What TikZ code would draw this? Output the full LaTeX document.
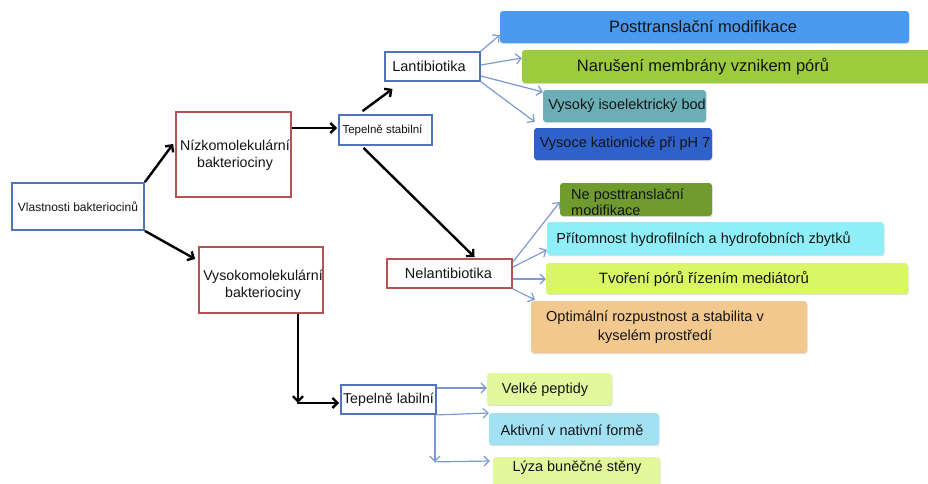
\documentclass[tikz,border=0pt]{standalone}
\usepackage{fontspec}
\setmainfont{Liberation Sans}
\usetikzlibrary{arrows.meta,shadows,calc}
\definecolor{bbd}{HTML}{4F74B8}
\definecolor{rbd}{HTML}{B55252}
\definecolor{arr}{HTML}{7D9AD0}
\definecolor{txt}{HTML}{141414}
\definecolor{cpost}{HTML}{4A9BF0}
\definecolor{cnarus}{HTML}{9CCB3B}
\definecolor{cvysoky}{HTML}{6BAEB5}
\definecolor{cvysoce}{HTML}{2E61C9}
\definecolor{cnepost}{HTML}{6F9B2F}
\definecolor{cpritom}{HTML}{8FEFF9}
\definecolor{ctvor}{HTML}{D9F765}
\definecolor{coptim}{HTML}{F3C88E}
\definecolor{cvelke}{HTML}{E1F89C}
\definecolor{caktiv}{HTML}{A2E1F4}
\begin{document}
\begin{tikzpicture}[x=1pt,y=-1pt,
  wbox/.style={draw, line width=1.8pt, fill=white, inner sep=0pt},
  bb/.style={wbox, draw=bbd},
  rb/.style={wbox, draw=rbd},
  cbox/.style={rounded corners=3pt, inner sep=0pt, draw=none,
    drop shadow={shadow xshift=0.6pt, shadow yshift=-1.2pt, opacity=0.25}},
  lbl/.style={inner sep=0pt, text=txt, align=center},
  blk/.style={line width=2.4pt, draw=black, -{Straight Barb[length=5pt,width=10pt]}},
  blkl/.style={line width=2.4pt, draw=black},
  blu/.style={line width=1.2pt, draw=arr, -{Straight Barb[length=5pt,width=10pt]}},
  blul/.style={line width=1.2pt, draw=arr},
  fA/.style={font=\fontsize{12}{14}\selectfont},
  fB/.style={font=\fontsize{14.2}{16.5}\selectfont},
  fC/.style={font=\fontsize{11.5}{13}\selectfont},
  fD/.style={font=\fontsize{14.5}{16}\selectfont},
  fE/.style={font=\fontsize{16.5}{19}\selectfont},
  fF/.style={font=\fontsize{15}{17}\selectfont},
  fG/.style={font=\fontsize{14.5}{19}\selectfont},
]
\useasboundingbox (0,0) rectangle (928,483);
\fill[white] (0,0) rectangle (928,483);

% white bordered boxes
\node[bb, minimum width=132pt, minimum height=47pt] (vlast) at (78,206.5) {};
\node[rb, minimum width=115pt, minimum height=85pt] (nizko) at (233.5,154.5) {};
\node[rb, minimum width=124pt, minimum height=66pt] (vysoko) at (261,280) {};
\node[bb, minimum width=93pt, minimum height=30pt] (stab) at (385.5,130) {};
\node[bb, minimum width=95pt, minimum height=29pt] (lanti) at (432.5,66.5) {};
\node[rb, minimum width=125pt, minimum height=29pt] (nelanti) at (449.5,273.5) {};
\node[bb, minimum width=95pt, minimum height=29pt] (labil) at (388.5,399.5) {};

% coloured boxes
\node[cbox, fill=cpost, minimum width=409pt, minimum height=32pt] (post) at (704.5,27) {};
\node[cbox, fill=cnarus, minimum width=410pt, minimum height=33pt] (narus) at (727,66.5) {};
\node[cbox, fill=cvysoky, minimum width=163pt, minimum height=32pt] (vysoky) at (624.5,106) {};
\node[cbox, fill=cvysoce, minimum width=178pt, minimum height=32pt] (vysoce) at (623,144) {};
\node[cbox, fill=cnepost, minimum width=152pt, minimum height=33pt] (nepost) at (636,199.5) {};
\node[cbox, fill=cpritom, minimum width=337pt, minimum height=33pt] (pritom) at (715.5,238.5) {};
\node[cbox, fill=ctvor, minimum width=362pt, minimum height=31pt] (tvor) at (727,278.5) {};
\node[cbox, fill=coptim, minimum width=276pt, minimum height=52pt] (optim) at (669,327) {};
\node[cbox, fill=cvelke, minimum width=125pt, minimum height=32pt] (velke) at (549.5,389) {};
\node[cbox, fill=caktiv, minimum width=170pt, minimum height=32pt] (aktiv) at (574,429) {};
\node[cbox, fill=cvelke, minimum width=167pt, minimum height=38pt] (lyza) at (576.5,476) {};

% texts
\node[lbl, fA] (vlastT) at (78,206.5) {Vlastnosti bakteriocinů};
\node[lbl, fB] (nizkoT) at (235,155) {Nízkomolekulární\\bakteriociny};
\node[lbl, fB] (vysokoT) at (263,285) {Vysokomolekulární\\bakteriociny};
\node[lbl, fC] (stabT) at (382.5,130) {Tepelně stabilní};
\node[lbl, fD] (lantiT) at (429,66.5) {Lantibiotika};
\node[lbl, fD] (nelantiT) at (448.5,273.5) {Nelantibiotika};
\node[lbl, fB] (labilT) at (388.5,400) {Tepelně labilní};
\node[lbl, fE] (postT) at (703,27) {Posttranslační modifikace};
\node[lbl, fE] (narusT) at (703,67) {Narušení membrány vznikem pórů};
\node[lbl, fD] (vysokyT) at (627,106) {Vysoký isoelektrický bod};
\node[lbl, fD] (vysoceT) at (625,144) {Vysoce kationické při pH 7};
\node[lbl, fD, anchor=west, align=left] (nepostT) at (571,202.5) {Ne posttranslační\\modifikace};
\node[lbl, fD] (pritomT) at (703.5,239) {Přítomnost hydrofilních a hydrofobních zbytků};
\node[lbl, fF] (tvorT) at (704,279) {Tvoření pórů řízením mediátorů};
\node[lbl, fG] (optimT) at (655,327) {Optimální rozpustnost a stabilita v\\kyselém prostředí};
\node[lbl, fD] (velkeT) at (545,390) {Velké peptidy};
\node[lbl, fD] (aktivT) at (572,430) {Aktivní v nativní formě};
\node[lbl, fD] (lyzaT) at (577,468) {Lýza buněčné stěny};

% black connectors
\draw[blk] (vlast.north east) -- ([xshift=-2pt,yshift=10.5pt]nizko.west);
\draw[blk] (vlast.south east) -- ([xshift=-3pt,yshift=21pt]vysoko.west);
\draw[blk] ([yshift=26.5pt]nizko.east) -- ([xshift=-1pt,yshift=2pt]stab.west);
\draw[blk] ([xshift=-23pt,yshift=3pt]stab.north) -- ([xshift=-40pt,yshift=-7pt]lanti.south);
\draw[blk] ([xshift=-22pt,yshift=-2pt]stab.south) -- ([xshift=25pt,yshift=1pt]nelanti.north);
\coordinate (vcorner) at ($(vysoko.south)+(37,89)$);
\draw[blk] ([xshift=37pt]vysoko.south) -- (vcorner);
\draw[blk] ([xshift=-1.2pt]vcorner) -- ([xshift=-1pt]vcorner -| labil.west);

% blue connectors
\draw[blu] (lanti.north east) -- ([yshift=-8pt]post.west);
\draw[blu] ([yshift=1.5pt]lanti.east) -- ([yshift=8.5pt]narus.west);
\draw[blu] ([yshift=-9.5pt]lanti.east) -- ([yshift=14pt]vysoky.west);
\draw[blu] (lanti.south east) -- ([xshift=1pt,yshift=6pt]vysoce.north west);
\draw[blu] ([yshift=11.5pt]nelanti.east) -- ([yshift=-2.5pt]nepost.west);
\draw[blu] ([yshift=6.5pt]nelanti.east) -- ([yshift=-11.5pt]pritom.west);
\draw[blu] ([yshift=-5.5pt]nelanti.east) -- ([yshift=-0.5pt]tvor.west);
\draw[blu] (nelanti.south east) -- ([xshift=4pt,yshift=1pt]optim.north west);
\draw[blu] ([yshift=11.5pt]labil.east) -- ([yshift=1pt]velke.west);
\draw[blu] (labil.south east) -- ([yshift=16pt]aktiv.west);
\coordinate (lcorner) at ($(labil.south east)+(-2,47)$);
\draw[blu] ([xshift=-2pt]labil.south east) -- (lcorner);
\draw[blu] ([xshift=-0.6pt]lcorner) -- ([xshift=-3pt,yshift=15pt]lyza.west);
\end{tikzpicture}
\end{document}
